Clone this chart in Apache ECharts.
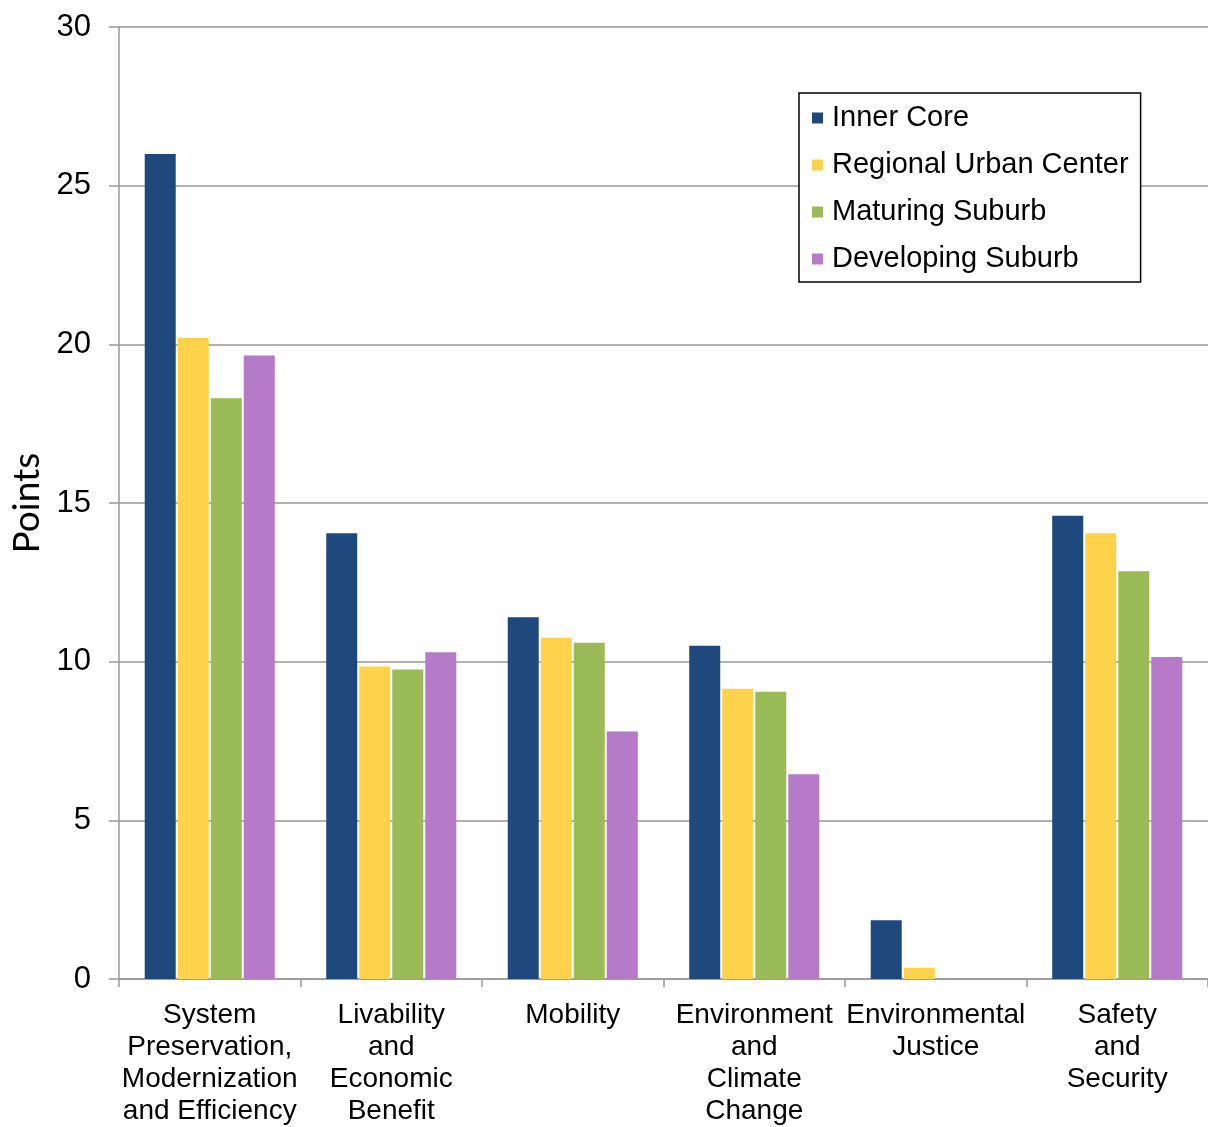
<!DOCTYPE html>
<html>
<head>
<meta charset="utf-8">
<script src="https://cdn.jsdelivr.net/npm/echarts@6/dist/echarts.min.js"></script>
<style>
html,body{margin:0;padding:0;background:#fff;}
#chart{width:1208px;height:1127px;}
</style>
</head>
<body>
<div id="chart"></div>
<script>
const categories = [
  "System\nPreservation,\nModernization\nand Efficiency",
  "Livability\nand\nEconomic\nBenefit",
  "Mobility",
  "Environment\nand\nClimate\nChange",
  "Environmental\nJustice",
  "Safety\nand\nSecurity"
];
const seriesNames = ["Inner Core", "Regional Urban Center", "Maturing Suburb", "Developing Suburb"];
const innerCore = [26.0, 14.05, 11.4, 10.5, 1.85, 14.6];
const regionalUrbanCenter = [20.2, 9.85, 10.75, 9.15, 0.35, 14.05];
const maturingSuburb = [18.3, 9.75, 10.6, 9.05, 0, 12.85];
const developingSuburb = [19.65, 10.3, 7.8, 6.45, 0, 10.15];
const yTicks = { min: 0, max: 30, interval: 5 };
const colors = ["#1F497D", "#FED24B", "#9BBB59", "#B57BC8"];

const font = "'Liberation Sans', Arial, sans-serif";
const allData = [innerCore, regionalUrbanCenter, maturingSuburb, developingSuburb];

const chart = echarts.init(document.getElementById('chart'), null, {renderer: 'canvas'});
chart.setOption({
  animation: false,
  backgroundColor: '#fff',
  color: colors,
  grid: { left: 119, right: -3, top: 27, bottom: 144, containLabel: false },
  legend: {
    orient: 'vertical',
    left: 799, top: 93,
    padding: [10, 12, 8, 13],
    itemGap: 17,
    itemWidth: 11, itemHeight: 11,
    icon: 'rect',
    backgroundColor: '#fff',
    borderColor: '#000', borderWidth: 1.5,
    textStyle: { fontFamily: font, fontSize: 29, lineHeight: 30, color: '#000', padding: [0, 0, 0, 4] },
    data: seriesNames
  },
  xAxis: {
    type: 'category',
    data: categories,
    axisLine: { show: true, lineStyle: { color: '#999', width: 1.5 } },
    axisTick: { show: true, length: 8, inside: false, lineStyle: { color: '#999', width: 1.5 } },
    axisLabel: { interval: 0, margin: 20, fontFamily: font, fontSize: 28, lineHeight: 32, color: '#000' },
    splitLine: { show: false }
  },
  yAxis: {
    type: 'value',
    min: yTicks.min, max: yTicks.max, interval: yTicks.interval,
    name: 'Points',
    nameLocation: 'middle',
    nameRotate: 90,
    nameGap: 72,
    nameTextStyle: { fontFamily: "Lato, 'Open Sans', sans-serif", fontSize: 37, color: '#000' },
    axisLine: { show: true, lineStyle: { color: '#999', width: 1.5 } },
    axisTick: { show: true, length: 10, lineStyle: { color: '#999', width: 1.5 } },
    axisLabel: { margin: 28, fontFamily: font, fontSize: 31, color: '#000' },
    splitLine: { show: true, lineStyle: { color: '#999', width: 1.5 } }
  },
  series: seriesNames.map((name, i) => ({
    name: name,
    type: 'bar',
    data: allData[i],
    barWidth: 31,
    barGap: '6.5%',
    itemStyle: { color: colors[i] }
  }))
});
</script>
</body>
</html>
